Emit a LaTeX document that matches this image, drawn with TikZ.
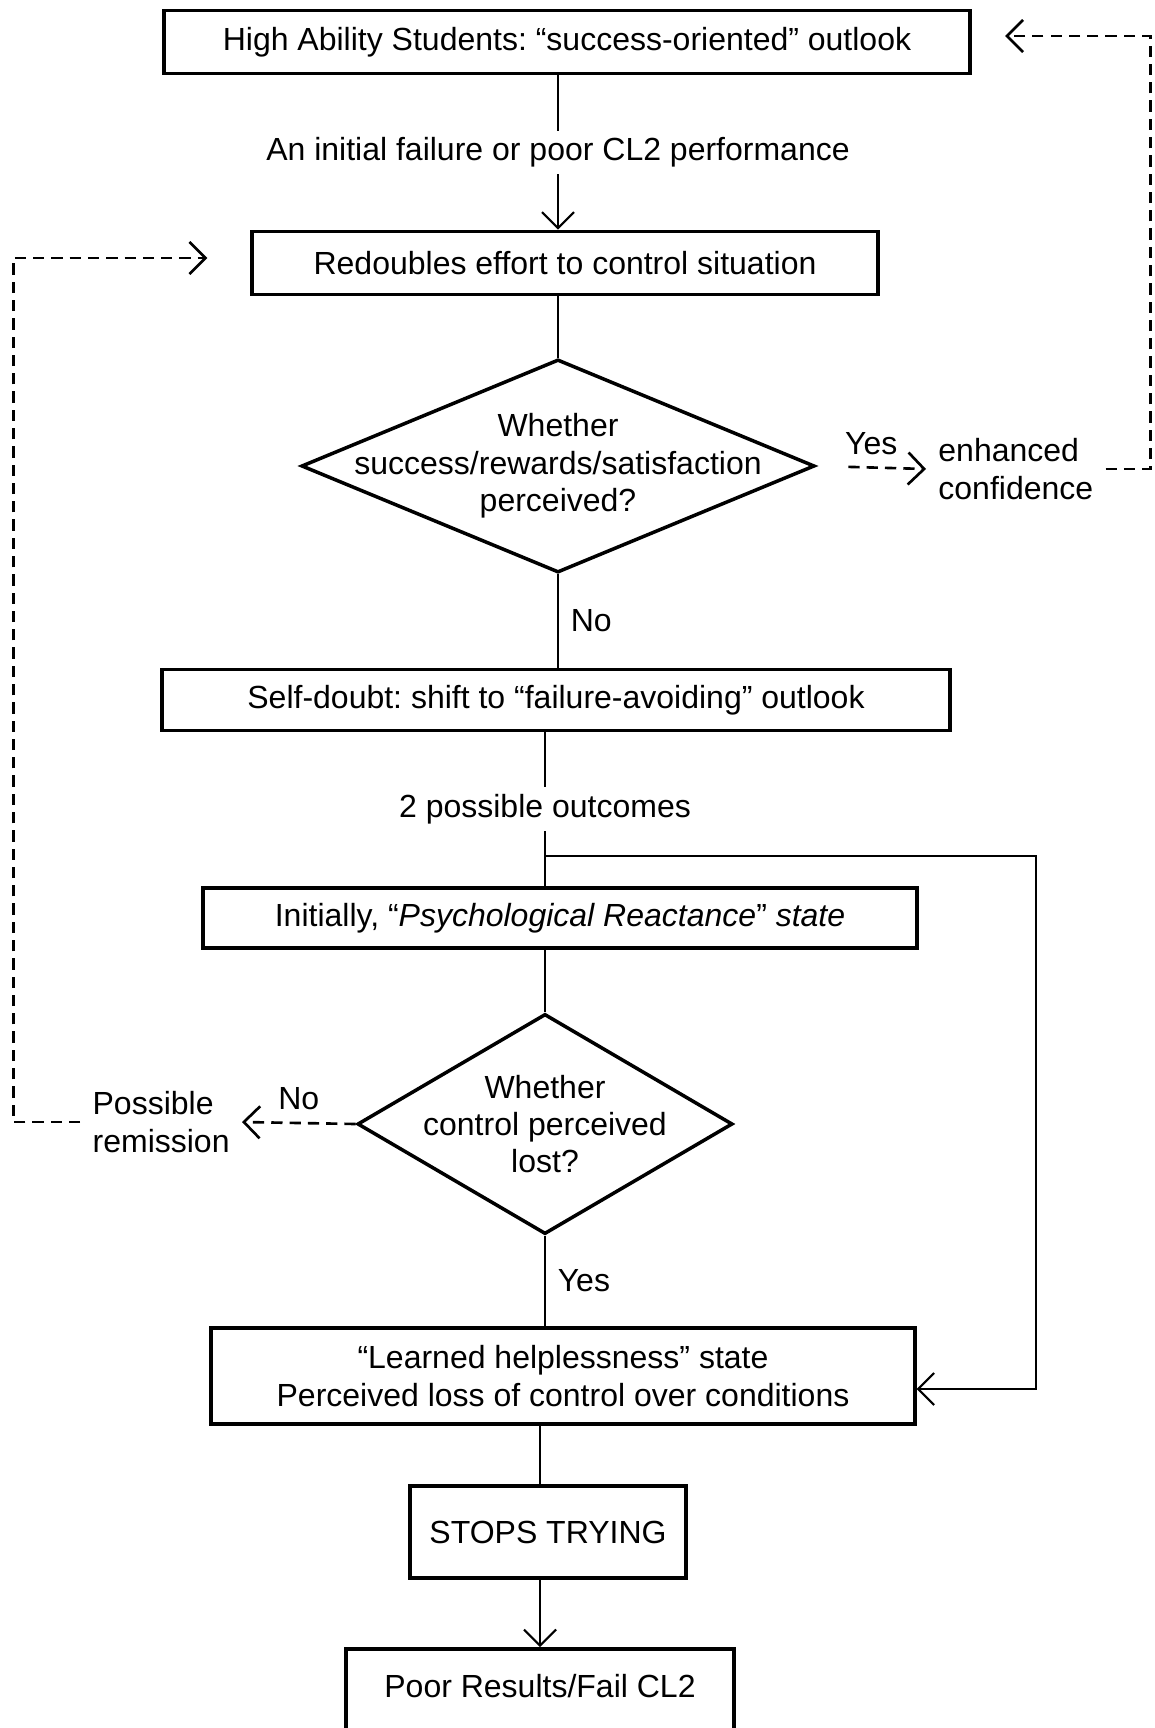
\documentclass[tikz,border=0pt]{standalone}
\usepackage{fontspec}
\setmainfont{Liberation Sans}
\usetikzlibrary{shapes.geometric, arrows.meta}
\frenchspacing

\tikzset{
  box/.style={draw, line width=1.1pt, inner sep=2pt, align=center},
  decision/.style={draw, diamond, line width=1pt, inner sep=0pt},
  link/.style={line width=0.6pt},
  fback/.style={line width=0.75pt, dash pattern=on 3.2pt off 2pt},
}

\begin{document}
\begin{tikzpicture}[x=0.01cm, y=-0.01cm, font=\fontsize{9.1}{10.6}\selectfont,
    >={Straight Barb[length=1.6mm, width=3.2mm]}]
    \useasboundingbox (0,0) rectangle (1154,1728);
    \clip (0,0) rectangle (1154,1728);

    % Main chain of boxes
    \node[box, minimum width=8.06cm, minimum height=0.63cm] (top) at (567,42) {High Ability Students: “success-oriented” outlook};
    \node[box, minimum width=6.25cm, minimum height=0.63cm] (redo) at (565,263) {Redoubles effort to control situation};
    \node[decision, minimum width=5.13cm, minimum height=2.13cm] (dia1) at (558,466) {};
    \node[align=center] (dia1txt) at (dia1) {Whether\\success/rewards/satisfaction\\perceived?};
    \node[box, minimum width=7.87cm, minimum height=0.61cm] (doubt) at (556,700) {Self-doubt: shift to “failure-avoiding” outlook};
    \node[box, minimum width=7.14cm, minimum height=0.60cm] (react) at (560,918) {Initially, “\textit{Psychological Reactance}” \textit{state}};
    \node[decision, minimum width=3.75cm, minimum height=2.20cm] (dia2) at (545,1124) {};
    \node[align=center] (dia2txt) at (dia2) {Whether\\control perceived\\lost?};
    \node[box, minimum width=7.03cm, minimum height=0.96cm] (helpless) at (563,1376) {“Learned helplessness” state\\Perceived loss of control over conditions};
    \node[box, minimum width=2.75cm, minimum height=0.92cm] (stops) at (548,1532) {STOPS TRYING};
    \node[box, minimum width=3.87cm, minimum height=0.93cm, text depth=0.2cm, anchor=north] (poor) at (540,1647) {Poor Results/Fail CL2};

    % Side texts
    \node[align=left, anchor=west] (conf) at (926,469) {enhanced\\confidence};
    \node[align=left, anchor=east] (rem) at (242,1122) {Possible\\remission};

    % Main line
    \draw[link, ->] (top.south -| dia1.north) -- node[fill=white, inner sep=2pt] (fail) {An initial failure or poor CL2 performance} (redo.north -| dia1.north);
    \draw[link] (redo.south -| dia1.north) -- (dia1.north);
    \draw[link] (dia1.south) -- node[right] (no1) {No} (doubt.north -| dia1.south);
    \draw[link] (doubt.south -| dia2.north) -- node[fill=white, inner sep=2pt] (two) {2 possible outcomes} (react.north -| dia2.north);
    \draw[link] (react.south -| dia2.north) -- (dia2.north);
    \draw[link] (dia2.south) -- node[right] (yes2) {Yes} (helpless.north -| dia2.south);
    \draw[link] (helpless.south -| poor.north) -- (stops.north -| poor.north);
    \draw[link, ->] (stops.south -| poor.north) -- (poor.north);

    % Branch to learned helplessness
    \coordinate (fork) at (545,856);
    \coordinate (bend) at (1036,856);
    \draw[link, ->] (fork) -- (bend) |- ([yshift=-0.13cm]helpless.east);

    % Dashed feedback loops
    \draw[fback, ->, shorten <=0.32cm] (dia1.east) -- node[above] (yes1) {Yes} (conf.west);
    \draw[fback, ->, shorten >=0.33cm] (conf.east) -- ++(45,0) |- ([yshift=0.06cm]top.east);
    \draw[fback, ->] (dia2.west) -- node[above] (no2) {No} (rem.east);
    \draw[fback, ->, shorten >=0.43cm] (rem.west) -- ++(-67,0) |- ([yshift=0.05cm]redo.west);
\end{tikzpicture}
\end{document}
